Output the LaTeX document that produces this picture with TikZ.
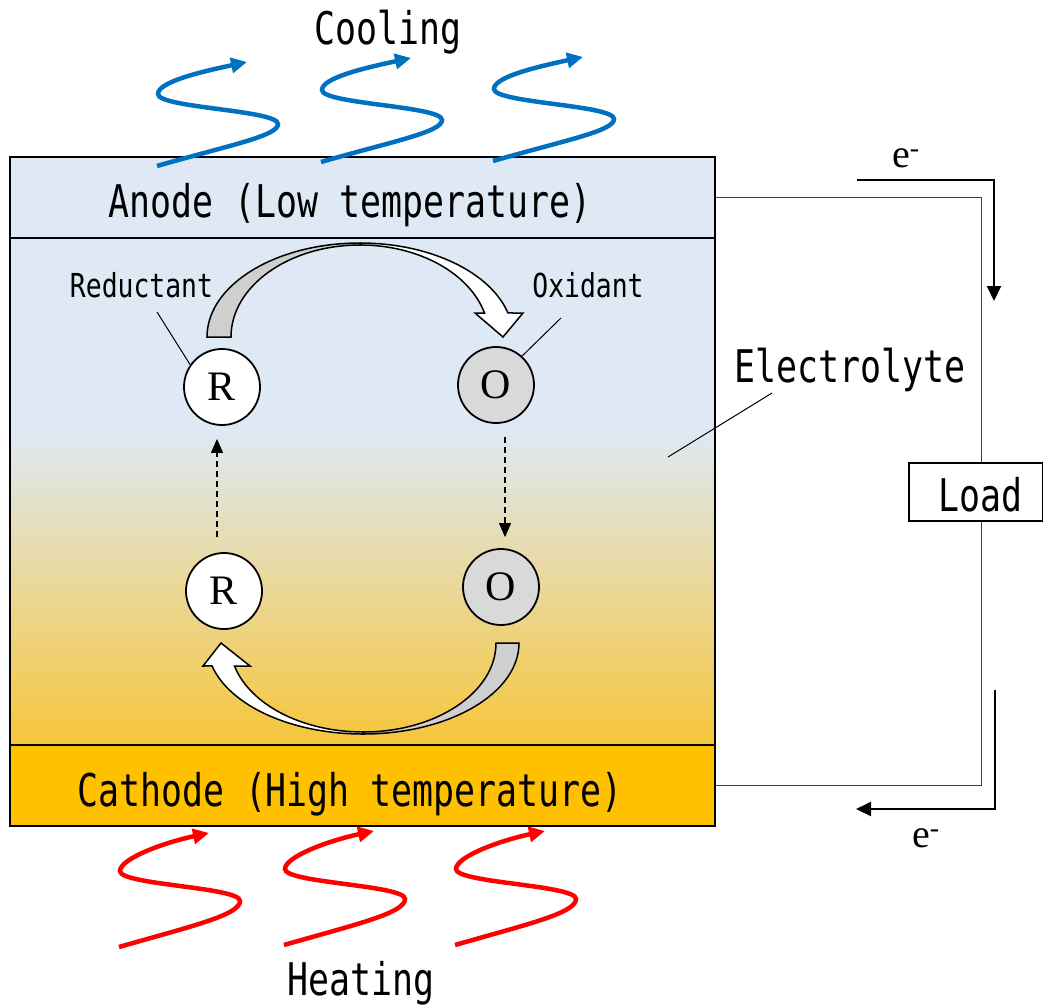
\documentclass[tikz,border=0pt]{standalone}
\usepackage{fontspec}
\newfontfamily\gothic[FakeStretch=0.775]{DejaVu Sans Mono}
\newfontfamily\gothicsmall[FakeStretch=0.8]{DejaVu Sans Mono}
\newfontfamily\serifr{Liberation Serif}
\usetikzlibrary{arrows.meta}
\definecolor{anodeblue}{HTML}{DEE9F5}
\definecolor{cathodegold}{HTML}{FFC000}
\definecolor{elgold}{HTML}{F6C63B}
\definecolor{coolblue}{HTML}{0070C0}
\definecolor{heatred}{HTML}{FF0000}
\definecolor{arrgray}{HTML}{CFCFCF}
\definecolor{ogray}{HTML}{D9D9D9}
\definecolor{wiregray}{HTML}{404040}
\tikzset{
  bigtext/.style={font=\gothic\fontsize{45}{45}\selectfont, inner sep=0pt},
  smalltext/.style={font=\gothicsmall\fontsize{33}{33}\selectfont, inner sep=0pt},
  serlabel/.style={font=\serifr\fontsize{40}{40}\selectfont, inner sep=0pt},
  band/.style={draw=black, line width=1.6pt, minimum width=705pt, minimum height=81pt, inner sep=0pt},
  species/.style={circle, draw=black, line width=1.8pt, minimum size=76pt, inner sep=0pt, font=\serifr\fontsize{42}{42}\selectfont},
  wavearrow/.style={line width=4.5pt, -{Triangle[length=16pt,width=15pt]}},
  dasharrow/.style={line width=1.2pt, dash pattern=on 6pt off 4pt, -{Triangle[length=14pt,width=12pt]}},
  earrow/.style={line width=2pt, -{Triangle[length=15pt,width=14pt]}},
  wire/.style={line width=1pt, draw=wiregray},
  leader/.style={line width=1pt},
  bigarrow/.style={draw=black, line width=1.5pt, line join=miter},
}
\begin{document}
\begin{tikzpicture}[x=1pt,y=-1pt]
\useasboundingbox (0,0) rectangle (1043,1004);

% electrolyte background
\fill[anodeblue] (10,238) rectangle (715,432);
\shade[top color=anodeblue, bottom color=elgold] (10,430) rectangle (715,745);

% electrodes
\node[band, fill=anodeblue] (anode) at (362.5,197.5) {};
\node[band, fill=cathodegold] (cathode) at (362.5,785.5) {};
\draw[line width=1.6pt] (10,157) rectangle (715,826);

\node[bigtext, anchor=base] (anodetxt) at (350,217) {Anode (Low temperature)};
\node[bigtext, anchor=base] (cathodetxt) at (350,806) {Cathode (High temperature)};

% cooling waves
\foreach \dx/\dy [count=\i] in {0/0, 164/-4, 336/-5}{
  \begin{scope}[shift={(\dx,\dy)}]
    \draw[wavearrow, coolblue] (157,166) .. controls (230,145) and (278,136) .. (278,124)
      .. controls (278,110) and (158,108) .. (158,94)
      .. controls (158,82) and (200,72) .. (247,62);
  \end{scope}
}
\node[bigtext, anchor=base] (cooling) at (388,44) {Cooling};

% heating waves
\foreach \dx/\dy [count=\i] in {-38/777, 127/775, 298/775}{
  \begin{scope}[shift={(\dx,\dy)}]
    \draw[wavearrow, heatred] (157,170) .. controls (230,149) and (278,138) .. (278,124)
      .. controls (278,110) and (158,108) .. (158,94)
      .. controls (158,82) and (200,66) .. (247,56);
  \end{scope}
}
\node[bigtext, anchor=base] (heating) at (361,995) {Heating};

% big curved arrows (top)
\path[bigarrow, fill=arrgray] (207,337) arc[start angle=180, end angle=270, x radius=153, y radius=94]
  -- (360,245) arc[start angle=270, end angle=180, x radius=129, y radius=92] -- cycle;
\path[bigarrow, fill=white] (360,243) arc[start angle=270, end angle=345.2, x radius=153, y radius=94]
  -- (523,313) -- (503,337) -- (475,313) -- (484.5,313)
  arc[start angle=344.9, end angle=270, x radius=129, y radius=92] -- cycle;

% big curved arrows (bottom)
\path[bigarrow, fill=arrgray] (519,643) arc[start angle=0, end angle=90, x radius=156, y radius=91]
  -- (363,732) arc[start angle=90, end angle=0, x radius=133, y radius=89] -- cycle;
\path[bigarrow, fill=white] (363,734) arc[start angle=90, end angle=165.4, x radius=156, y radius=91]
  -- (203,666) -- (221,643) -- (250,666) -- (234.5,666)
  arc[start angle=165, end angle=90, x radius=133, y radius=89] -- cycle;

% species
\node[species, fill=white] (Ru) at (222,387) {R};
\node[species, fill=ogray] (Ou) at (496,385) {O};
\node[species, fill=white] (Rl) at (224,591) {R};
\node[species, fill=ogray] (Ol) at (501,587) {O};

\draw[dasharrow] ([xshift=-7pt,yshift=15pt]Rl.north) -- ([xshift=-5pt,yshift=-13pt]Ru.south);
\draw[dasharrow] ([xshift=9pt,yshift=-13pt]Ou.south) -- ([xshift=4pt,yshift=11pt]Ol.north);

% labels with leaders
\node[smalltext, anchor=base] (redlbl) at (141.5,297) {Reductant};
\node[smalltext, anchor=base] (oxlbl) at (588,297) {Oxidant};
\coordinate (redend) at (157,312);
\coordinate (oxend) at (561,318);
\draw[leader] (Ru.145) -- (redend);
\draw[leader] (Ou.48) -- (oxend);

\node[bigtext, anchor=base] (electrolyte) at (850,382) {Electrolyte};
\coordinate (ela) at (668,457);
\coordinate (elb) at (772,393);
\draw[leader] (ela) -- (elb);

% external circuit
\node[draw=black, line width=1.5pt, fill=white, minimum width=134pt, minimum height=58pt, inner sep=0pt] (load) at (976,492) {};
\node[bigtext, anchor=base] (loadtxt) at (980,511) {Load};
\coordinate (wtop) at (981,197.5);
\coordinate (wbot) at (981,785.5);
\draw[wire] (anode.east) -- (wtop) -- (wtop |- load.north);
\draw[wire] (cathode.east) -- (wbot) -- (wbot |- load.south);

% electron arrows
\coordinate (e1s) at (857,180);
\coordinate (e1c) at (994,180);
\coordinate (e1t) at (994,301);
\draw[earrow] (e1s) -- (e1c) -- (e1t);
\coordinate (e2s) at (995,690);
\coordinate (e2c) at (995,809);
\coordinate (e2t) at (856,809);
\draw[earrow] (e2s) -- (e2c) -- (e2t);
\node[serlabel, anchor=base west] (etop) at (892,167) {e\textsuperscript{-}};
\node[serlabel, anchor=base west] (ebot) at (912,847) {e\textsuperscript{-}};
\end{tikzpicture}
\end{document}
